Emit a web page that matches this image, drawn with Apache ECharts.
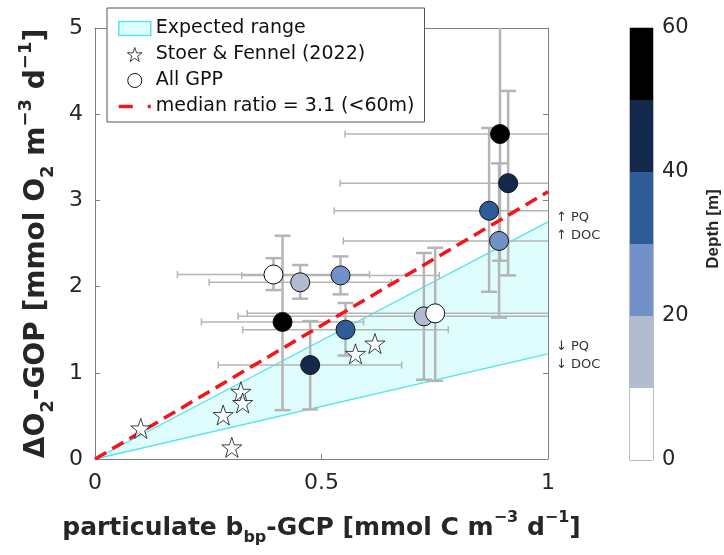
<!DOCTYPE html>
<html><head><meta charset="utf-8">
<script src="https://cdn.jsdelivr.net/npm/echarts@6/dist/echarts.min.js"></script>
<style>html,body{margin:0;padding:0;background:#fff}#c{width:724px;height:555px}</style>
</head><body><div id="c"></div>
<script>
// ---- All GPP points ----
const gppX     = [0.894, 0.912, 0.870, 0.892, 0.394, 0.453, 0.542, 0.414, 0.553, 0.475, 0.726, 0.751];
const gppY     = [3.77, 3.20, 2.88, 2.53, 2.14, 2.05, 2.13, 1.59, 1.50, 1.09, 1.655, 1.69];
const gppDepth = [55, 45, 35, 25, 5, 15, 25, 55, 35, 45, 15, 5];
const gppXLow  = [0.552, 0.541, 0.528, 0.548, 0.182, 0.252, 0.324, 0.235, 0.326, 0.272, 0.316, 0.336];
const gppXHigh = [1.24, 1.28, 1.21, 1.24, 0.606, 0.654, 0.760, 0.593, 0.780, 0.677, 1.14, 1.17];
const gppYLow  = [2.30, 2.13, 1.94, 1.64, 1.96, 1.86, 1.91, 0.567, 1.20, 0.575, 0.92, 0.906];
const gppYHigh = [5.25, 4.27, 3.84, 3.43, 2.33, 2.25, 2.35, 2.59, 1.81, 1.60, 2.39, 2.45];
// ---- Stoer & Fennel (2022) ----
const stoerX = [0.101, 0.322, 0.326, 0.283, 0.302, 0.575, 0.618];
const stoerY = [0.355, 0.78, 0.65, 0.51, 0.135, 1.22, 1.34];
// ---- reference lines ----
const lineX      = [0, 1];
const medianY    = [0, 3.1];
const rangeLowY  = [0, 1.22];
const rangeHighY = [0, 2.75];
// ---- depth colour bar ----
const depthEdges  = [0, 10, 20, 30, 40, 50, 60];
const depthTicks  = [0, 20, 40, 60];
const depthColors = ['#ffffff', '#b1bcd0', '#7291c9', '#2e5c98', '#13294b', '#000000'];
// ---- names ----
const nameRange  = 'Expected range';
const nameStoer  = 'Stoer & Fennel (2022)';
const nameGPP    = 'All GPP';
const nameMedian = 'median ratio = 3.1 (<60m)';
const annotTexts = ['\u2191 PQ', '\u2191 DOC', '\u2193 PQ', '\u2193 DOC'];
const depthTitle = 'Depth [m]';

const FONT = 'DejaVu Sans';
const AX = '#808080', TXT = '#262626', ERR = '#b5b5b5', CYAN = '#55e6ea';
const STAR = 'path://M50,2 L61.5,36 L97,36 L68.5,57.5 L79,92 L50,71 L21,92 L31.5,57.5 L3,36 L38.5,36 Z';

const chart = echarts.init(document.getElementById('c'), null, {renderer: 'canvas'});

const gppData = gppX.map((x, i) => [x, gppY[i], gppDepth[i]]);
const errData = gppX.map((x, i) => [x, gppY[i], gppXLow[i], gppXHigh[i], gppYLow[i], gppYHigh[i]]);
const stoerData = stoerX.map((x, i) => [x, stoerY[i]]);
const medianData = lineX.map((x, i) => [x, medianY[i]]);
const lowData = lineX.map((x, i) => [x, rangeLowY[i]]);
const highData = lineX.map((x, i) => [x, rangeHighY[i]]);
const cbData = depthColors.map((c, i) => [depthEdges[i], depthEdges[i + 1], i]);

const bold = (s) => ({fontFamily: FONT, fontWeight: 'bold', fontSize: s, color: TXT});
const richX = {
  b:   Object.assign(bold(25), {lineHeight: 36}),
  sub: Object.assign(bold(16), {verticalAlign: 'bottom'}),
  sup: Object.assign(bold(16), {verticalAlign: 'top'})
};
const richY = {
  b:   Object.assign(bold(28), {lineHeight: 40}),
  sub: Object.assign(bold(18), {verticalAlign: 'bottom'}),
  sup: Object.assign(bold(18), {verticalAlign: 'top'})
};

function renderErr(params, api) {
  const x = api.value(0), y = api.value(1);
  const pL = api.coord([api.value(2), y]), pR = api.coord([api.value(3), y]);
  const pB = api.coord([x, api.value(4)]), pT = api.coord([x, api.value(5)]);
  const cap = 8, tick = 3.5;
  const hs = {stroke: ERR, lineWidth: 1.5, fill: null};
  const vs = {stroke: ERR, lineWidth: 2.5, fill: null};
  return {type: 'group', children: [
    {type: 'line', shape: {x1: pL[0], y1: pL[1], x2: pR[0], y2: pR[1]}, style: hs},
    {type: 'line', shape: {x1: pL[0], y1: pL[1] - tick, x2: pL[0], y2: pL[1] + tick}, style: hs},
    {type: 'line', shape: {x1: pR[0], y1: pR[1] - tick, x2: pR[0], y2: pR[1] + tick}, style: hs},
    {type: 'line', shape: {x1: pB[0], y1: pB[1], x2: pT[0], y2: pT[1]}, style: vs},
    {type: 'line', shape: {x1: pB[0] - cap, y1: pB[1], x2: pB[0] + cap, y2: pB[1]}, style: vs},
    {type: 'line', shape: {x1: pT[0] - cap, y1: pT[1], x2: pT[0] + cap, y2: pT[1]}, style: vs}
  ]};
}

function renderBand(params, api) {
  if (params.dataIndex !== 0) return null;
  const pts = [];
  lineX.forEach((x, i) => pts.push(api.coord([x, rangeLowY[i]])));
  for (let i = lineX.length - 1; i >= 0; i--) pts.push(api.coord([lineX[i], rangeHighY[i]]));
  return {type: 'polygon', shape: {points: pts}, style: {fill: '#dffdfd', stroke: null}};
}

function renderCb(params, api) {
  const a = api.coord([0, api.value(0)]), b = api.coord([1, api.value(1)]);
  return {type: 'rect', shape: {x: a[0], y: b[1], width: b[0] - a[0], height: a[1] - b[1]},
          style: {fill: depthColors[api.value(2)]}};
}

const annotTops = [211, 229, 340, 358];

const option = {
  backgroundColor: '#ffffff',
  animation: false,
  grid: [
    {left: 95, right: 176, top: 28, bottom: 96},
    {left: 630, width: 23, top: 28, bottom: 95, show: true, borderColor: '#7a7a7a', borderWidth: 1, backgroundColor: 'transparent'}
  ],
  xAxis: [
    {type: 'value', gridIndex: 0, min: 0, max: 1, interval: 0.5, position: 'bottom',
     axisLine: {show: true, onZero: false, lineStyle: {color: AX}},
     axisTick: {show: true, inside: true, length: 5, lineStyle: {color: AX}},
     axisLabel: {fontFamily: FONT, fontSize: 22, color: TXT, margin: 13},
     splitLine: {show: false},
     name: '{b|particulate b}{sub|bp}{b|-GCP [mmol C m}{sup|\u22123}{b| d}{sup|\u22121}{b|]}',
     nameLocation: 'middle', nameGap: 51,
     nameTextStyle: Object.assign(bold(25), {rich: richX})},
    {type: 'value', gridIndex: 0, min: 0, max: 1, interval: 0.5, position: 'top',
     axisLine: {show: true, onZero: false, lineStyle: {color: AX}},
     axisTick: {show: true, inside: true, length: 5, lineStyle: {color: AX}},
     axisLabel: {show: false}, splitLine: {show: false}},
    {type: 'value', gridIndex: 1, min: 0, max: 1, show: false}
  ],
  yAxis: [
    {type: 'value', gridIndex: 0, min: 0, max: 5, interval: 1, position: 'left',
     axisLine: {show: true, onZero: false, lineStyle: {color: AX}},
     axisTick: {show: true, inside: true, length: 5, lineStyle: {color: AX}},
     axisLabel: {fontFamily: FONT, fontSize: 22, color: TXT, margin: 12},
     splitLine: {show: false},
     name: '{b|\u0394O}{sub|2}{b|-GOP [mmol O}{sub|2}{b| m}{sup|\u22123}{b| d}{sup|\u22121}{b|]}',
     nameLocation: 'middle', nameGap: 38, nameRotate: 90,
     nameTextStyle: Object.assign(bold(28), {rich: richY})},
    {type: 'value', gridIndex: 0, min: 0, max: 5, interval: 1, position: 'right',
     axisLine: {show: true, onZero: false, lineStyle: {color: AX}},
     axisTick: {show: true, inside: true, length: 5, lineStyle: {color: AX}},
     axisLabel: {show: false}, splitLine: {show: false}},
    {type: 'value', gridIndex: 1, min: depthEdges[0], max: depthEdges[depthEdges.length - 1], interval: 20,
     position: 'right',
     axisLine: {show: false}, axisTick: {show: false}, splitLine: {show: false},
     axisLabel: {fontFamily: FONT, fontSize: 21, color: TXT, margin: 9,
                 formatter: (v) => depthTicks.includes(v) ? String(v) : ''}}
  ],
  visualMap: {
    type: 'piecewise', show: false, seriesIndex: 6, dimension: 2,
    pieces: depthColors.map((c, i) => ({min: depthEdges[i], max: depthEdges[i + 1], color: c}))
  },
  legend: {
    orient: 'vertical', left: 107, top: 8,
    padding: [11, 10, 6, 10], itemGap: 7, itemWidth: 32, itemHeight: 14,
    backgroundColor: '#ffffff', borderColor: '#555555', borderWidth: 1,
    textStyle: {fontFamily: FONT, fontSize: 19, color: '#111111'},
    selectedMode: false,
    data: [
      {name: nameRange, icon: 'rect', itemStyle: {color: '#dffdfd', borderColor: CYAN, borderWidth: 1.5}},
      {name: nameStoer, icon: STAR, itemStyle: {color: '#ffffff', borderColor: '#111111', borderWidth: 1}},
      {name: nameGPP, icon: 'circle', itemStyle: {color: '#ffffff', borderColor: '#111111', borderWidth: 1}},
      {name: nameMedian, itemStyle: {opacity: 0}, lineStyle: {color: '#f2151c', width: 3.5, type: [14, 15]}}
    ]
  },
  graphic: annotTexts.map((t, i) => ({
    type: 'text', left: 556, top: annotTops[i],
    style: {text: t, fontFamily: FONT, fontSize: 13, fill: '#333333'}
  })).concat([{
    type: 'text', x: 713, y: 229, rotation: Math.PI / 2,
    style: {text: depthTitle, fontFamily: 'Liberation Sans', fontWeight: 'bold', fontSize: 17,
            fill: TXT, align: 'center', verticalAlign: 'middle'}
  }]),
  series: [
    {name: nameRange, type: 'custom', xAxisIndex: 0, yAxisIndex: 0, renderItem: renderBand,
     data: lowData, itemStyle: {color: '#dffdfd'}, z: 1, silent: true},
    {name: 'rangeLow', type: 'line', xAxisIndex: 0, yAxisIndex: 0, data: lowData, symbol: 'none',
     lineStyle: {color: CYAN, width: 1.4}, z: 2, silent: true},
    {name: 'rangeHigh', type: 'line', xAxisIndex: 0, yAxisIndex: 0, data: highData, symbol: 'none',
     lineStyle: {color: CYAN, width: 1.4}, z: 2, silent: true},
    {name: 'err', type: 'custom', xAxisIndex: 0, yAxisIndex: 0, renderItem: renderErr, clip: true,
     data: errData, encode: {x: 0, y: 1}, z: 3, silent: true},
    {name: nameMedian, type: 'line', xAxisIndex: 0, yAxisIndex: 0, data: medianData, symbol: 'none',
     itemStyle: {color: '#f2151c'},
     lineStyle: {color: '#f2151c', width: 3.5, type: [13, 7]}, z: 4, silent: true},
    {name: nameStoer, type: 'scatter', xAxisIndex: 0, yAxisIndex: 0, data: stoerData, symbol: STAR,
     symbolSize: 20, itemStyle: {color: '#ffffff', borderColor: '#111111', borderWidth: 1}, z: 5},
    {name: nameGPP, type: 'scatter', xAxisIndex: 0, yAxisIndex: 0, data: gppData, symbol: 'circle',
     symbolSize: 19, itemStyle: {borderColor: '#111111', borderWidth: 1, opacity: 1}, z: 6},
    {name: 'colorbar', type: 'custom', xAxisIndex: 2, yAxisIndex: 2, renderItem: renderCb,
     data: cbData, encode: {y: [0, 1]}, z: 2, silent: true}
  ]
};
chart.setOption(option);
</script></body></html>
